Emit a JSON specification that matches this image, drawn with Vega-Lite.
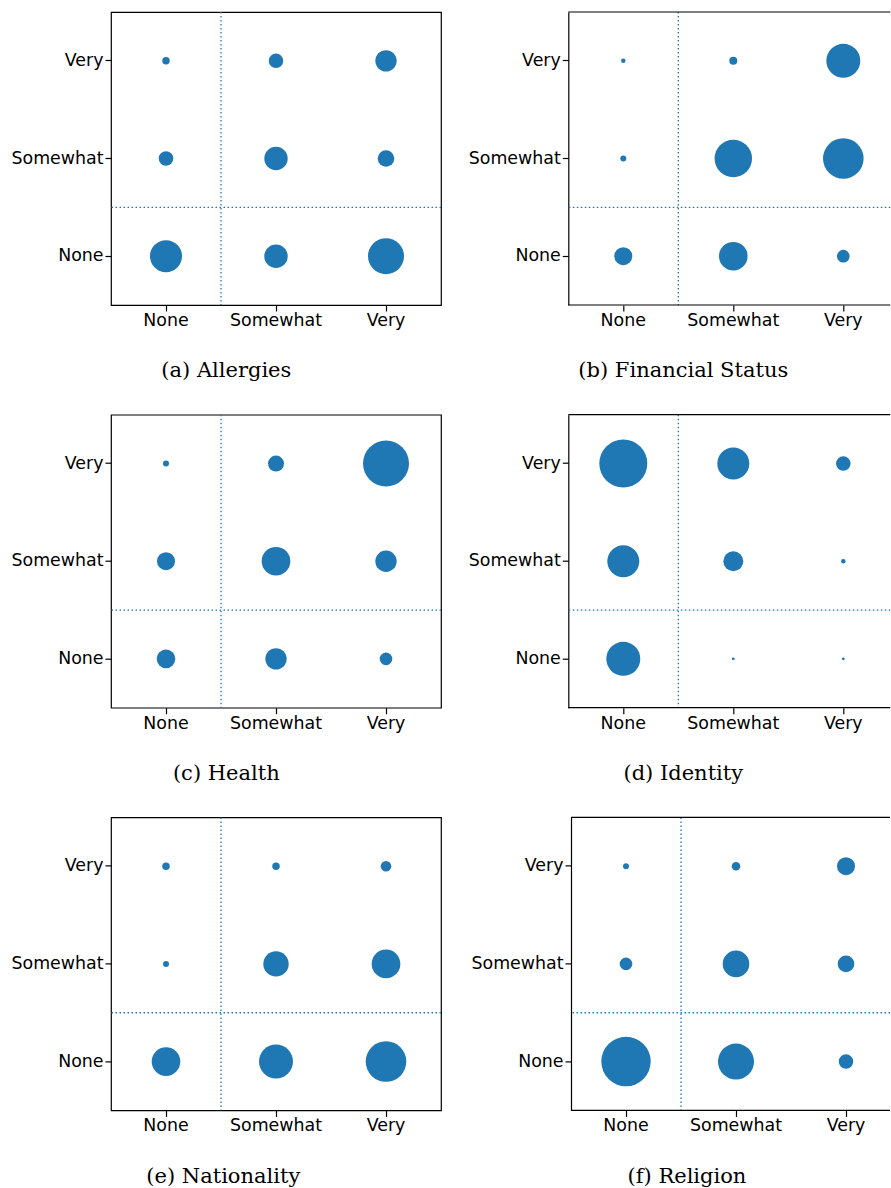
{
  "$schema": "https://vega.github.io/schema/vega-lite/v6.json",
  "background": "white",
  "padding": {"left": 10, "top": 10, "right": 0, "bottom": 0},
  "autosize": {"type": "pad"},
  "datasets": {
    "d": [
      {"topic": "Allergies", "x_level": "None", "y_level": "Very", "n": 14},
      {"topic": "Allergies", "x_level": "Somewhat", "y_level": "Very", "n": 53},
      {"topic": "Allergies", "x_level": "Very", "y_level": "Very", "n": 114},
      {"topic": "Allergies", "x_level": "None", "y_level": "Somewhat", "n": 53},
      {"topic": "Allergies", "x_level": "Somewhat", "y_level": "Somewhat", "n": 137},
      {"topic": "Allergies", "x_level": "Very", "y_level": "Somewhat", "n": 69},
      {"topic": "Allergies", "x_level": "None", "y_level": "None", "n": 256},
      {"topic": "Allergies", "x_level": "Somewhat", "y_level": "None", "n": 137},
      {"topic": "Allergies", "x_level": "Very", "y_level": "None", "n": 324},
      {"topic": "Financial Status", "x_level": "None", "y_level": "Very", "n": 5},
      {"topic": "Financial Status", "x_level": "Somewhat", "y_level": "Very", "n": 16},
      {"topic": "Financial Status", "x_level": "Very", "y_level": "Very", "n": 289},
      {"topic": "Financial Status", "x_level": "None", "y_level": "Somewhat", "n": 9},
      {"topic": "Financial Status", "x_level": "Somewhat", "y_level": "Somewhat", "n": 350},
      {"topic": "Financial Status", "x_level": "Very", "y_level": "Somewhat", "n": 412},
      {"topic": "Financial Status", "x_level": "None", "y_level": "None", "n": 81},
      {"topic": "Financial Status", "x_level": "Somewhat", "y_level": "None", "n": 204},
      {"topic": "Financial Status", "x_level": "Very", "y_level": "None", "n": 40},
      {"topic": "Health", "x_level": "None", "y_level": "Very", "n": 9},
      {"topic": "Health", "x_level": "Somewhat", "y_level": "Very", "n": 64},
      {"topic": "Health", "x_level": "Very", "y_level": "Very", "n": 529},
      {"topic": "Health", "x_level": "None", "y_level": "Somewhat", "n": 81},
      {"topic": "Health", "x_level": "Somewhat", "y_level": "Somewhat", "n": 205},
      {"topic": "Health", "x_level": "Very", "y_level": "Somewhat", "n": 114},
      {"topic": "Health", "x_level": "None", "y_level": "None", "n": 87},
      {"topic": "Health", "x_level": "Somewhat", "y_level": "None", "n": 114},
      {"topic": "Health", "x_level": "Very", "y_level": "None", "n": 40},
      {"topic": "Identity", "x_level": "None", "y_level": "Very", "n": 576},
      {"topic": "Identity", "x_level": "Somewhat", "y_level": "Very", "n": 256},
      {"topic": "Identity", "x_level": "Very", "y_level": "Very", "n": 53},
      {"topic": "Identity", "x_level": "None", "y_level": "Somewhat", "n": 256},
      {"topic": "Identity", "x_level": "Somewhat", "y_level": "Somewhat", "n": 100},
      {"topic": "Identity", "x_level": "Very", "y_level": "Somewhat", "n": 5},
      {"topic": "Identity", "x_level": "None", "y_level": "None", "n": 289},
      {"topic": "Identity", "x_level": "Somewhat", "y_level": "None", "n": 2},
      {"topic": "Identity", "x_level": "Very", "y_level": "None", "n": 2},
      {"topic": "Nationality", "x_level": "None", "y_level": "Very", "n": 14},
      {"topic": "Nationality", "x_level": "Somewhat", "y_level": "Very", "n": 14},
      {"topic": "Nationality", "x_level": "Very", "y_level": "Very", "n": 28},
      {"topic": "Nationality", "x_level": "None", "y_level": "Somewhat", "n": 9},
      {"topic": "Nationality", "x_level": "Somewhat", "y_level": "Somewhat", "n": 161},
      {"topic": "Nationality", "x_level": "Very", "y_level": "Somewhat", "n": 205},
      {"topic": "Nationality", "x_level": "None", "y_level": "None", "n": 205},
      {"topic": "Nationality", "x_level": "Somewhat", "y_level": "None", "n": 289},
      {"topic": "Nationality", "x_level": "Very", "y_level": "None", "n": 412},
      {"topic": "Religion", "x_level": "None", "y_level": "Very", "n": 9},
      {"topic": "Religion", "x_level": "Somewhat", "y_level": "Very", "n": 18},
      {"topic": "Religion", "x_level": "Very", "y_level": "Very", "n": 81},
      {"topic": "Religion", "x_level": "None", "y_level": "Somewhat", "n": 40},
      {"topic": "Religion", "x_level": "Somewhat", "y_level": "Somewhat", "n": 177},
      {"topic": "Religion", "x_level": "Very", "y_level": "Somewhat", "n": 69},
      {"topic": "Religion", "x_level": "None", "y_level": "None", "n": 610},
      {"topic": "Religion", "x_level": "Somewhat", "y_level": "None", "n": 324},
      {"topic": "Religion", "x_level": "Very", "y_level": "None", "n": 53}
    ]
  },
  "config": {
    "axis": {"title": null, "grid": false, "labelFont": "DejaVu Sans", "labelFontSize": 17.4, "labelColor": "#000", "tickColor": "#000", "tickSize": 6, "tickWidth": 1.2, "domainColor": "#000", "domainWidth": 1.2, "labelPadding": 2, "labelAngle": 0},
    "axisX": {"labelPadding": 0.5},
    "title": {"orient": "bottom", "font": "DejaVu Serif", "fontSize": 21, "fontWeight": "normal", "color": "#000", "offset": 31.5, "anchor": "middle", "frame": "bounds"},
    "rule": {"color": "#1f77b4", "strokeDash": [1.5, 2.5], "strokeWidth": 1.3}
  },
  "spacing": 30.7,
  "vconcat": [
    {
      "spacing": 24.3,
      "hconcat": [
        {
          "width": 330, "height": 293,
          "view": {"stroke": "#000", "strokeWidth": 1.2},
          "title": {"text": "(a) Allergies"},
          "layer": [
            {"data": {"name": "d"}, "transform": [{"filter": "datum.topic === 'Allergies'"}],
             "mark": {"type": "circle", "opacity": 1, "color": "#1f77b4"},
             "encoding": {
               "x": {"field": "x_level", "type": "nominal", "scale": {"type": "band", "domain": ["None", "Somewhat", "Very"], "paddingInner": 0, "paddingOuter": 0}, "axis": {"domain": false}},
               "y": {"field": "y_level", "type": "nominal", "scale": {"type": "band", "domain": ["Very", "Somewhat", "None"], "paddingInner": 0, "paddingOuter": 0}, "axis": {"domain": false}},
               "size": {"field": "n", "type": "quantitative", "scale": {"type": "linear", "domain": [0, 100], "range": [0, 400]}, "legend": null}
             }},
            {"data": {"values": [{}]}, "mark": {"type": "rule"}, "encoding": {"x": {"datum": "Somewhat", "type": "nominal", "bandPosition": 0}}},
            {"data": {"values": [{}]}, "mark": {"type": "rule"}, "encoding": {"y": {"datum": "None", "type": "nominal", "bandPosition": 0}}}
          ]
        },
        {
          "width": 322, "height": 293,
          "view": {"stroke": null},
          "title": {"text": "(b) Financial Status", "dx": 0},
          "layer": [
            {"data": {"name": "d"}, "transform": [{"filter": "datum.topic === 'Financial Status'"}],
             "mark": {"type": "circle", "opacity": 1, "color": "#1f77b4"},
             "encoding": {
               "x": {"field": "x_level", "type": "nominal", "scale": {"type": "band", "domain": ["None", "Somewhat", "Very"], "range": [0, 330], "paddingInner": 0, "paddingOuter": 0}, "axis": {"domain": false}},
               "y": {"field": "y_level", "type": "nominal", "scale": {"type": "band", "domain": ["Very", "Somewhat", "None"], "paddingInner": 0, "paddingOuter": 0}, "axis": {"domain": true}},
               "size": {"field": "n", "type": "quantitative", "scale": {"type": "linear", "domain": [0, 100], "range": [0, 400]}, "legend": null}
             }},
            {"data": {"values": [{}]}, "mark": {"type": "rule"}, "encoding": {"x": {"datum": "Somewhat", "type": "nominal", "bandPosition": 0}}},
            {"data": {"values": [{}]}, "mark": {"type": "rule"}, "encoding": {"y": {"datum": "None", "type": "nominal", "bandPosition": 0}}},
            {"data": {"values": [{}]}, "mark": {"type": "rule", "color": "#000", "strokeDash": [], "strokeWidth": 1.2}, "encoding": {"y": {"datum": "Very", "type": "nominal", "bandPosition": 0}}},
            {"data": {"values": [{}]}, "mark": {"type": "rule", "color": "#000", "strokeDash": [], "strokeWidth": 1.2}, "encoding": {"y": {"datum": "None", "type": "nominal", "bandPosition": 1}}}
          ]
        }
      ]
    },
    {
      "spacing": 24.3,
      "hconcat": [
        {
          "width": 330, "height": 293,
          "view": {"stroke": "#000", "strokeWidth": 1.2},
          "title": {"text": "(c) Health"},
          "layer": [
            {"data": {"name": "d"}, "transform": [{"filter": "datum.topic === 'Health'"}],
             "mark": {"type": "circle", "opacity": 1, "color": "#1f77b4"},
             "encoding": {
               "x": {"field": "x_level", "type": "nominal", "scale": {"type": "band", "domain": ["None", "Somewhat", "Very"], "paddingInner": 0, "paddingOuter": 0}, "axis": {"domain": false}},
               "y": {"field": "y_level", "type": "nominal", "scale": {"type": "band", "domain": ["Very", "Somewhat", "None"], "paddingInner": 0, "paddingOuter": 0}, "axis": {"domain": false}},
               "size": {"field": "n", "type": "quantitative", "scale": {"type": "linear", "domain": [0, 100], "range": [0, 400]}, "legend": null}
             }},
            {"data": {"values": [{}]}, "mark": {"type": "rule"}, "encoding": {"x": {"datum": "Somewhat", "type": "nominal", "bandPosition": 0}}},
            {"data": {"values": [{}]}, "mark": {"type": "rule"}, "encoding": {"y": {"datum": "None", "type": "nominal", "bandPosition": 0}}}
          ]
        },
        {
          "width": 322, "height": 293,
          "view": {"stroke": null},
          "title": {"text": "(d) Identity", "dx": 0},
          "layer": [
            {"data": {"name": "d"}, "transform": [{"filter": "datum.topic === 'Identity'"}],
             "mark": {"type": "circle", "opacity": 1, "color": "#1f77b4"},
             "encoding": {
               "x": {"field": "x_level", "type": "nominal", "scale": {"type": "band", "domain": ["None", "Somewhat", "Very"], "range": [0, 330], "paddingInner": 0, "paddingOuter": 0}, "axis": {"domain": false}},
               "y": {"field": "y_level", "type": "nominal", "scale": {"type": "band", "domain": ["Very", "Somewhat", "None"], "paddingInner": 0, "paddingOuter": 0}, "axis": {"domain": true}},
               "size": {"field": "n", "type": "quantitative", "scale": {"type": "linear", "domain": [0, 100], "range": [0, 400]}, "legend": null}
             }},
            {"data": {"values": [{}]}, "mark": {"type": "rule"}, "encoding": {"x": {"datum": "Somewhat", "type": "nominal", "bandPosition": 0}}},
            {"data": {"values": [{}]}, "mark": {"type": "rule"}, "encoding": {"y": {"datum": "None", "type": "nominal", "bandPosition": 0}}},
            {"data": {"values": [{}]}, "mark": {"type": "rule", "color": "#000", "strokeDash": [], "strokeWidth": 1.2}, "encoding": {"y": {"datum": "Very", "type": "nominal", "bandPosition": 0}}},
            {"data": {"values": [{}]}, "mark": {"type": "rule", "color": "#000", "strokeDash": [], "strokeWidth": 1.2}, "encoding": {"y": {"datum": "None", "type": "nominal", "bandPosition": 1}}}
          ]
        }
      ]
    },
    {
      "spacing": 27,
      "hconcat": [
        {
          "width": 330, "height": 293,
          "view": {"stroke": "#000", "strokeWidth": 1.2},
          "title": {"text": "(e) Nationality", "dx": -3},
          "layer": [
            {"data": {"name": "d"}, "transform": [{"filter": "datum.topic === 'Nationality'"}],
             "mark": {"type": "circle", "opacity": 1, "color": "#1f77b4"},
             "encoding": {
               "x": {"field": "x_level", "type": "nominal", "scale": {"type": "band", "domain": ["None", "Somewhat", "Very"], "paddingInner": 0, "paddingOuter": 0}, "axis": {"domain": false}},
               "y": {"field": "y_level", "type": "nominal", "scale": {"type": "band", "domain": ["Very", "Somewhat", "None"], "paddingInner": 0, "paddingOuter": 0}, "axis": {"domain": false}},
               "size": {"field": "n", "type": "quantitative", "scale": {"type": "linear", "domain": [0, 100], "range": [0, 400]}, "legend": null}
             }},
            {"data": {"values": [{}]}, "mark": {"type": "rule"}, "encoding": {"x": {"datum": "Somewhat", "type": "nominal", "bandPosition": 0}}},
            {"data": {"values": [{}]}, "mark": {"type": "rule"}, "encoding": {"y": {"datum": "None", "type": "nominal", "bandPosition": 0}}}
          ]
        },
        {
          "width": 319, "height": 293,
          "view": {"stroke": null},
          "title": {"text": "(f) Religion", "dx": 1},
          "layer": [
            {"data": {"name": "d"}, "transform": [{"filter": "datum.topic === 'Religion'"}],
             "mark": {"type": "circle", "opacity": 1, "color": "#1f77b4"},
             "encoding": {
               "x": {"field": "x_level", "type": "nominal", "scale": {"type": "band", "domain": ["None", "Somewhat", "Very"], "range": [0, 330], "paddingInner": 0, "paddingOuter": 0}, "axis": {"domain": false}},
               "y": {"field": "y_level", "type": "nominal", "scale": {"type": "band", "domain": ["Very", "Somewhat", "None"], "paddingInner": 0, "paddingOuter": 0}, "axis": {"domain": true}},
               "size": {"field": "n", "type": "quantitative", "scale": {"type": "linear", "domain": [0, 100], "range": [0, 400]}, "legend": null}
             }},
            {"data": {"values": [{}]}, "mark": {"type": "rule"}, "encoding": {"x": {"datum": "Somewhat", "type": "nominal", "bandPosition": 0}}},
            {"data": {"values": [{}]}, "mark": {"type": "rule"}, "encoding": {"y": {"datum": "None", "type": "nominal", "bandPosition": 0}}},
            {"data": {"values": [{}]}, "mark": {"type": "rule", "color": "#000", "strokeDash": [], "strokeWidth": 1.2}, "encoding": {"y": {"datum": "Very", "type": "nominal", "bandPosition": 0}}},
            {"data": {"values": [{}]}, "mark": {"type": "rule", "color": "#000", "strokeDash": [], "strokeWidth": 1.2}, "encoding": {"y": {"datum": "None", "type": "nominal", "bandPosition": 1}}}
          ]
        }
      ]
    }
  ]
}
